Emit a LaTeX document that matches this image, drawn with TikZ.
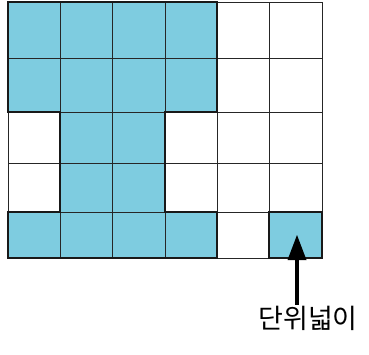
\documentclass[tikz,border=0pt]{standalone}
\usepackage{fontspec}
\newfontfamily\krfont{Noto Sans CJK KR}
\definecolor{cellblue}{RGB}{126,204,224}
\begin{document}
\begin{tikzpicture}[x=1pt,y=-1pt,
  thin grid/.style={line width=1pt,draw=black!85},
  outline/.style={line width=2.6pt,draw=black!90,line join=miter},
  shaft/.style={line width=4pt,draw=black},
  head/.style={fill=black}]
\useasboundingbox (0,0) rectangle (369,354);
% shaded regions
\fill[cellblue] (8,2) -- (217,2) -- (217,112) -- (165,112) -- (165,212) -- (217,212) -- (217,258) -- (8,258) -- (8,212) -- (60,212) -- (60,112) -- (8,112) -- cycle;
\fill[cellblue] (269,212) rectangle (322,258);
% grid lines
\foreach \x in {8,60,112,165,217,269,322} \draw[thin grid] (\x,2) -- (\x,258);
\foreach \y in {2,58,112,163,212,258} \draw[thin grid] (8,\y) -- (322,\y);
% outlines
\draw[outline] (8,2) -- (217,2) -- (217,112) -- (165,112) -- (165,212) -- (217,212) -- (217,258) -- (8,258) -- (8,212) -- (60,212) -- (60,112) -- (8,112) -- cycle;
\draw[outline] (269,212) rectangle (322,258);
% label and arrow
\node[inner sep=0pt,font=\krfont\fontsize{27}{27}\selectfont] (lbl) at (308,318) {단위넓이};
\coordinate (tip) at (297,235);
\coordinate (base) at (297,258);
\draw[shaft] (lbl.north -| tip) ++(0,-1) -- (base);
\fill[head] (tip) -- ++(9.5,25) -- ++(-19,0) -- cycle;
\end{tikzpicture}
\end{document}
